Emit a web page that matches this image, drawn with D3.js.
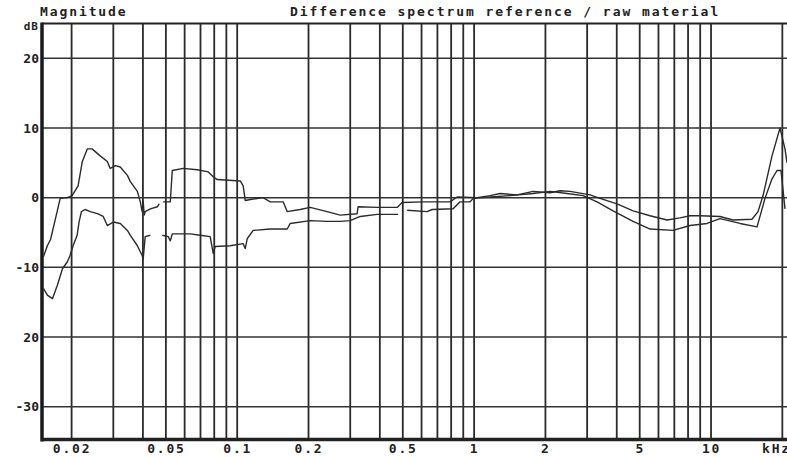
<!DOCTYPE html>
<html>
<head>
<meta charset="utf-8">
<script src="https://d3js.org/d3.v7.min.js"></script>
<style>
  html, body { margin: 0; padding: 0; background: #fff; }
  svg { display: block; }
  text { font-family: "DejaVu Sans Mono", monospace; font-weight: bold; fill: #222; }
</style>
</head>
<body>
<div id="chart"></div>
<script>
// frequency in kHz, magnitude in dB (null = gap in the trace)
var freqA = [0.0152, 0.0158, 0.0163, 0.0171, 0.0179, 0.0192, 0.0201, 0.0213, 0.0222, 0.0233,
             0.0244, 0.0264, 0.0283, 0.0291, 0.0306, 0.0321, 0.0344, 0.0354, 0.0379, 0.0390,
             0.0397, 0.0401, 0.0405, 0.0409, 0.0430, 0.0460, 0.0469, 0.0478, 0.0487, 0.0522,
             0.0532, 0.0592, 0.0678, 0.0755, 0.0792, 0.0823, 0.1030, 0.1060, 0.1081, 0.1168,
             0.1287, 0.1378, 0.1563, 0.1626, 0.1844, 0.2032, 0.2397, 0.2720, 0.3208, 0.3239,
             0.3898, 0.4733, 0.4968, 0.6092, 0.7920, 0.8478, 1.030, 1.168, 1.287, 1.518,
             1.774, 2.093, 2.307, 2.542, 3.087, 3.401, 4.012, 4.689, 5.529, 6.522,
             7.399, 8.155, 8.986, 10.91, 12.38, 14.89, 15.79, 16.58, 18.09, 19.55,
             20.52, 20.93];
var dbA   = [-8.5, -6.9, -6.0, -3.0, -0.1, 0.0, 0.3, 1.7, 5.2, 7.0,
             7.0, 6.0, 5.2, 4.2, 4.6, 4.4, 3.2, 2.3, 0.9, -0.6,
             -2.0, -0.5, -2.5, -2.0, -1.6, -1.3, -0.9, null, -0.6, -0.6,
             3.9, 4.2, 4.0, 3.7, 3.0, 2.6, 2.4, 1.7, -0.4, -0.2,
             0.0, -0.6, -0.6, -2.0, -1.7, -1.4, -2.0, -2.5, -2.3, -1.3,
             -1.4, -1.4, -0.7, -0.6, -0.6, 0.1, 0.0, 0.3, 0.6, 0.4,
             0.9, 0.7, 1.0, 0.9, 0.4, -0.1, -0.9, -1.9, -2.6, -3.2,
             -2.9, -2.6, -2.6, -2.7, -3.2, -3.1, -2.0, 0.3, 6.0, 10.0,
             7.0, 5.0];

var freqB = [0.0152, 0.0158, 0.0166, 0.0174, 0.0183, 0.0192, 0.0197, 0.0203, 0.0211, 0.0215,
             0.0220, 0.0228, 0.0240, 0.0257, 0.0272, 0.0283, 0.0300, 0.0321, 0.0344, 0.0354,
             0.0379, 0.0397, 0.0401, 0.0409, 0.0430, 0.0455, 0.0483, 0.0512, 0.0522, 0.0532,
             0.0633, 0.0698, 0.0769, 0.0792, 0.0808, 0.0934, 0.1060, 0.1081, 0.1102, 0.1168,
             0.1378, 0.1626, 0.1674, 0.2032, 0.2397, 0.2720, 0.2997, 0.3304, 0.3898, 0.4778,
             0.5000, 0.5216, 0.6334, 0.6649, 0.8155, 0.8728, 0.9619, 0.9903, 1.168, 1.419,
             1.774, 2.093, 2.469, 2.884, 3.304, 3.859, 4.689, 5.529, 6.914, 8.155,
             9.618, 10.91, 13.26, 15.64, 16.90, 18.09, 18.99, 19.74, 20.52];
var dbB   = [-13.0, -14.0, -14.5, -12.6, -10.2, -9.2, -8.3, -6.9, -5.4, -3.5,
             -2.0, -1.7, -2.0, -2.3, -2.7, -4.0, -3.5, -3.7, -4.7, -5.4,
             -6.9, -8.3, -8.8, -5.6, -5.4, null, -5.4, -5.6, -6.2, -5.2,
             -5.2, -5.4, -5.6, -8.0, -7.0, -6.9, -6.6, -7.3, -5.9, -4.7,
             -4.5, -4.5, -3.7, -3.3, -3.4, -3.4, -3.3, -2.7, -2.4, -2.4,
             null, -1.8, -2.0, -1.7, -1.6, -0.6, -0.6, -0.1, 0.1, 0.3,
             0.6, 0.9, 0.6, 0.3, -0.6, -1.9, -3.4, -4.5, -4.7, -4.0,
             -3.7, -3.0, -3.7, -4.2, -0.1, 2.7, 3.9, 3.9, -1.6];

var xGrid = [0.02, 0.03, 0.04, 0.05, 0.06, 0.07, 0.08, 0.09,
             0.1, 0.2, 0.3, 0.4, 0.5, 0.6, 0.7, 0.8, 0.9,
             1, 2, 3, 4, 5, 6, 7, 8, 9, 10, 20];
var xTicks = [0.02, 0.05, 0.1, 0.2, 0.5, 1, 2, 5, 10];
var xTickLabels = ["0.02", "0.05", "0.1", "0.2", "0.5", "1", "2", "5", "10"];
var yTicks = [20, 10, 0, -10, -20, -30];
var yTickLabels = ["20", "10", "0", "-10", "20", "-30"];

var width = 787, height = 457;
var plotLeft = 42, plotTop = 23.5, plotBottom = 441.5;

var x = d3.scaleLog().domain([0.015, 21]).range([plotLeft, 474 + 237 * Math.log10(21)]);
var y = d3.scaleLinear().domain([-35, 25]).range([plotBottom, plotTop]);

var svg = d3.select("#chart").append("svg")
  .attr("width", width)
  .attr("height", height);

// grid
svg.append("g")
  .selectAll("line")
  .data(xGrid)
  .enter().append("line")
    .attr("x1", d => x(d)).attr("x2", d => x(d))
    .attr("y1", plotTop).attr("y2", plotBottom - 2)
    .attr("stroke", "#2a2a2a")
    .attr("stroke-width", 1.8);

svg.append("g")
  .selectAll("line")
  .data(yTicks)
  .enter().append("line")
    .attr("x1", plotLeft).attr("x2", width)
    .attr("y1", d => y(d)).attr("y2", d => y(d))
    .attr("stroke", "#333")
    .attr("stroke-width", 1.5);

// frame
svg.append("line")
  .attr("x1", plotLeft).attr("x2", width)
  .attr("y1", plotTop).attr("y2", plotTop)
  .attr("stroke", "#222").attr("stroke-width", 2);
svg.append("line")
  .attr("x1", plotLeft).attr("x2", width)
  .attr("y1", plotBottom - 2).attr("y2", plotBottom - 2)
  .attr("stroke", "#222").attr("stroke-width", 3.5);
svg.append("line")
  .attr("x1", plotLeft).attr("x2", plotLeft)
  .attr("y1", plotTop - 1).attr("y2", plotBottom)
  .attr("stroke", "#1a1a1a").attr("stroke-width", 3.5);

// traces
var line = d3.line()
  .defined(d => d[1] !== null)
  .x(d => x(d[0]))
  .y(d => y(d[1]));

svg.append("clipPath").attr("id", "plot")
  .append("rect").attr("x", plotLeft).attr("y", plotTop)
  .attr("width", width - plotLeft).attr("height", plotBottom - plotTop);

[[freqA, dbA], [freqB, dbB]].forEach(function(s) {
  var pts = s[0].map((f, i) => [f, s[1][i]]);
  svg.append("path")
    .attr("clip-path", "url(#plot)")
    .attr("d", line(pts))
    .attr("fill", "none")
    .attr("stroke", "#2b2b2b")
    .attr("stroke-width", 1.4)
    .attr("stroke-linejoin", "round");
});

// x tick labels
var xAxis = d3.axisBottom(x)
  .tickValues(xTicks)
  .tickSize(0)
  .tickPadding(0)
  .tickFormat((d, i) => xTickLabels[i]);
var gx = svg.append("g")
  .attr("transform", "translate(0,453)")
  .call(xAxis);
gx.select(".domain").remove();
gx.selectAll("text")
  .attr("dy", 0)
  .attr("font-size", 13)
  .attr("letter-spacing", 1.8)
  .attr("font-family", "DejaVu Sans Mono")
  .attr("font-weight", "bold")
  .attr("fill", "#222");

// y tick labels
svg.append("g")
  .attr("class", "ylabels")
  .selectAll("text")
  .data(yTicks)
  .enter().append("text")
    .attr("x", 39)
    .attr("y", d => y(d))
    .attr("dy", "0.35em")
    .attr("text-anchor", "end")
    .attr("font-size", 13)
    .text((d, i) => yTickLabels[i]);

svg.append("text")
  .attr("x", 39).attr("y", 30)
  .attr("text-anchor", "end")
  .attr("font-size", 11)
  .attr("letter-spacing", 1)
  .text("dB");

svg.append("text")
  .attr("x", 762).attr("y", 453)
  .attr("font-size", 13)
  .attr("letter-spacing", 1.8)
  .text("kHz");

svg.append("text")
  .attr("x", 40).attr("y", 16)
  .attr("font-size", 13)
  .attr("letter-spacing", 1.9)
  .text("Magnitude");

svg.append("text")
  .attr("x", 290).attr("y", 16)
  .attr("font-size", 13)
  .attr("letter-spacing", 1.95)
  .text("Difference spectrum reference / raw material");
</script>
</body>
</html>
